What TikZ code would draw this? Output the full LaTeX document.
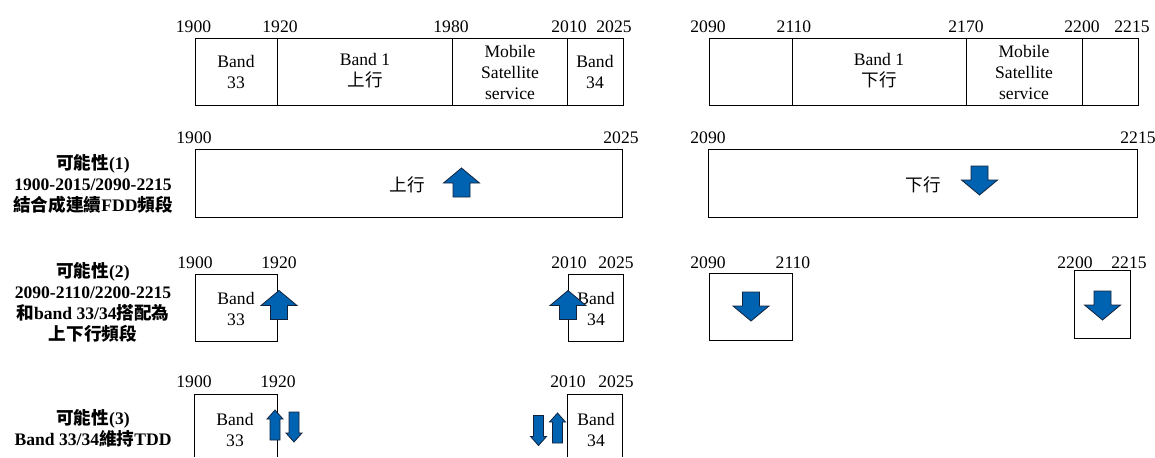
\documentclass[tikz,border=0pt]{standalone}
\usepackage{fontspec}
\setmainfont{Liberation Serif}
\newfontfamily\cjk{Noto Sans CJK TC}
\newcommand{\zh}[1]{{\cjk #1}}
\definecolor{arrowblue}{RGB}{0,99,177}
\definecolor{arrowline}{RGB}{20,35,60}

\tikzset{
    band/.style={line width=0.5pt},
    lbl/.style={font=\fontsize{8.8}{10.5}\selectfont, align=center, inner sep=0pt},
    freq/.style={font=\fontsize{8.8}{10.5}\selectfont, anchor=base, inner sep=0pt},
    caption/.style={font=\fontsize{8.8}{10.5}\selectfont\bfseries, align=center, inner sep=0pt},
    blockarrow/.style={fill=arrowblue, draw=arrowline, line width=0.4pt},
    pics/bigarrow/.style={code={
        \draw[blockarrow] (0,-14.5) -- (18,0.5) -- (8.5,0.5) -- (8.5,14.5)
            -- (-8.5,14.5) -- (-8.5,0.5) -- (-18,0.5) -- cycle;}},
    pics/thinarrow/.style={code={
        \draw[blockarrow] (0,-15) -- (8,-6) -- (5,-6) -- (5,15)
            -- (-5,15) -- (-5,-6) -- (-8,-6) -- cycle;}}
}

\begin{document}
\begin{tikzpicture}[
    % one unit = one pixel of the 1155x457 layout, y going down
    x=0.5pt, y=-0.5pt
]
    \useasboundingbox (0,0) rectangle (1155,457);

    % ==========================================
    % 1. BAND PLAN (top row)
    % ==========================================
    \draw[band] (195,38) rectangle (623,105); % 1900-2025
    \draw[band] (277,38) -- (277,105);  % 1920
    \draw[band] (452,38) -- (452,105);  % 1980
    \draw[band] (567,38) -- (567,105);  % 2010
    \draw[band] (709,38) rectangle (1138,105); % 2090-2215
    \draw[band] (792,38) -- (792,105);  % 2110
    \draw[band] (966,38) -- (966,105);  % 2170
    \draw[band] (1082,38) -- (1082,105); % 2200

    \node[freq] (tA) at (193.5,32) {1900};
    \node[freq] (tB) at (280,32) {1920};
    \node[freq] (tC) at (451,32) {1980};
    \node[freq] (tD) at (569,32) {2010};
    \node[freq] (tE) at (614,32) {2025};
    \node[freq] (tF) at (708,32) {2090};
    \node[freq] (tG) at (794,32) {2110};
    \node[freq] (tH) at (966,32) {2170};
    \node[freq] (tI) at (1082,32) {2200};
    \node[freq] (tJ) at (1132,32) {2215};

    \node[lbl] (band33) at (236,72) {Band\\33};
    \node[lbl] (band1up) at (365,71) {Band 1\\\zh{上行}};
    \node[lbl] (mssA) at (510,72) {Mobile\\Satellite\\service};
    \node[lbl] (band34) at (595,72) {Band\\34};
    \node[lbl] (band1dn) at (879,71) {Band 1\\\zh{下行}};
    \node[lbl] (mssB) at (1024,72) {Mobile\\Satellite\\service};

    % ==========================================
    % 2. OPTION (1)
    % ==========================================
    \node[caption] (opt1) at (93,184) {\zh{可能性}(1)\\1900-2015/2090-2215\\\zh{結合成連續}FDD\zh{頻段}};

    \draw[band] (195,149) rectangle (622,217); % uplink block
    \draw[band] (708,149) rectangle (1137,217); % downlink block
    \node[freq] (aA) at (194,143) {1900};
    \node[freq] (aB) at (621,143) {2025};
    \node[freq] (aC) at (708,143) {2090};
    \node[freq] (aD) at (1138,143) {2215};

    \node[lbl] (up1) at (407,185) {\zh{上行}};
    \pic (upArr1) at (461.5,182.5) {bigarrow};
    \node[lbl] (dn1) at (923,185) {\zh{下行}};
    \pic[rotate=180] (dnArr1) at (979.5,180.5) {bigarrow};

    % ==========================================
    % 3. OPTION (2)
    % ==========================================
    \node[caption] (opt2) at (93,302) {\zh{可能性}(2)\\2090-2110/2200-2215\\\zh{和}band 33/34\zh{搭配為}\\\zh{上下行頻段}};

    \draw[band] (195,274) rectangle (277,341); % band 33
    \draw[band] (568,274) rectangle (623,341); % band 34
    \draw[band] (709,273) rectangle (792,340); % 2090-2110
    \draw[band] (1074,270) rectangle (1130,338); % 2200-2215
    \node[freq] (bA) at (195,268) {1900};
    \node[freq] (bB) at (279,268) {1920};
    \node[freq] (bC) at (569,268) {2010};
    \node[freq] (bD) at (616,268) {2025};
    \node[freq] (bE) at (708,268) {2090};
    \node[freq] (bF) at (793,268) {2110};
    \node[freq] (bG) at (1075,268) {2200};
    \node[freq] (bH) at (1129,268) {2215};

    \node[lbl] (b33) at (236,309) {Band\\33};
    \node[lbl] (b34) at (596,309) {Band\\34};
    \pic (upArr2) at (279,305) {bigarrow};
    \pic (upArr3) at (568,305) {bigarrow};
    \pic[rotate=180] (dnArr2) at (751,306.5) {bigarrow};
    \pic[rotate=180] (dnArr3) at (1102.5,305.5) {bigarrow};

    % ==========================================
    % 4. OPTION (3)
    % ==========================================
    \node[caption] (opt3) at (93,428) {\zh{可能性}(3)\\Band 33/34\zh{維持}TDD};

    \draw[band] (194,457) -- (194,394) -- (277,394) -- (277,457); % band 33
    \draw[band] (567,457) -- (567,394) -- (622,394) -- (622,457); % band 34
    \node[freq] (cA) at (194,387) {1900};
    \node[freq] (cB) at (278,387) {1920};
    \node[freq] (cC) at (568,387) {2010};
    \node[freq] (cD) at (616,387) {2025};

    \node[lbl] (c33) at (235,430) {Band\\33};
    \node[lbl] (c34) at (596,430) {Band\\34};
    \pic (tddUp1) at (275,425) {thinarrow};
    \pic[rotate=180] (tddDn1) at (294,427) {thinarrow};
    \pic[rotate=180] (tddDn2) at (538.5,430.5) {thinarrow};
    \pic (tddUp2) at (557.5,428) {thinarrow};

\end{tikzpicture}
\end{document}
